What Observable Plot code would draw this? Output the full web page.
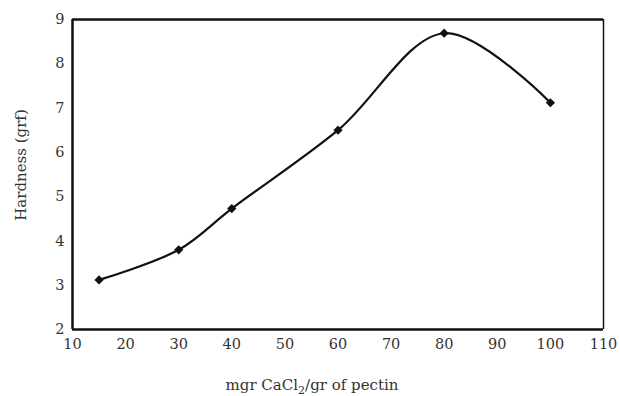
<!DOCTYPE html>
<html>
<head>
<meta charset="utf-8">
<script src="https://cdn.jsdelivr.net/npm/d3@7"></script>
<script src="https://cdn.jsdelivr.net/npm/@observablehq/plot@0.6"></script>
<style>
  html, body { margin: 0; padding: 0; background: #fff; }
  #chart { width: 620px; height: 396px; }
</style>
</head>
<body>
<div id="chart"></div>
<script>
const concentration = [15, 30, 40, 60, 80, 100];
const hardness = [3.12, 3.8, 4.73, 6.5, 8.69, 7.12];
const xTicks = [10, 20, 30, 40, 50, 60, 70, 80, 90, 100, 110];
const yTicks = [2, 3, 4, 5, 6, 7, 8, 9];

const data = concentration.map((c, i) => ({ c, h: hardness[i] }));
const font = "'DejaVu Serif', 'Liberation Serif', serif";

const chart = Plot.plot({
  width: 620,
  height: 396,
  marginLeft: 72,
  marginRight: 17,
  marginTop: 19,
  marginBottom: 67,
  style: { fontFamily: font, background: "#fff", color: "#222" },
  x: { domain: [10, 110], label: null },
  y: { domain: [2, 9], label: null },
  marks: [
    Plot.axisX(xTicks, { tickSize: 0, tickPadding: 9, fontSize: 14.5, tickFormat: "d", label: null, fill: "#333" }),
    Plot.axisY(yTicks, { tickSize: 0, tickPadding: 8, fontSize: 14.5, tickFormat: "d", label: null, fill: "#333" }),
    Plot.ruleX([10], { stroke: "#111", strokeWidth: 2.5 }),
    Plot.ruleX([110], { stroke: "#111", strokeWidth: 1.5 }),
    Plot.ruleY([2], { stroke: "#111", strokeWidth: 2.5 }),
    Plot.ruleY([9], { stroke: "#111", strokeWidth: 2.5 }),
    Plot.line(data, { x: "c", y: "h", curve: "catmull-rom", stroke: "#111", strokeWidth: 2.2 }),
    Plot.dot(data, { x: "c", y: "h", symbol: "diamond2", r: 3.2, fill: "#111", stroke: "#111" })
  ]
});

const svg = d3.select(chart);
svg.append("text")
  .attr("x", 312).attr("y", 390)
  .attr("text-anchor", "middle")
  .attr("font-family", font).attr("font-size", 15).attr("fill", "#333")
  .call(t => {
    t.append("tspan").text("mgr CaCl");
    t.append("tspan").attr("font-size", 11).attr("dy", 4).text("2");
    t.append("tspan").attr("dy", -4).text("/gr of pectin");
  });
svg.append("text")
  .attr("transform", "translate(26,165) rotate(-90)")
  .attr("text-anchor", "middle")
  .attr("font-family", font).attr("font-size", 15).attr("fill", "#333")
  .text("Hardness (grf)");

document.getElementById("chart").appendChild(chart);
</script>
</body>
</html>
